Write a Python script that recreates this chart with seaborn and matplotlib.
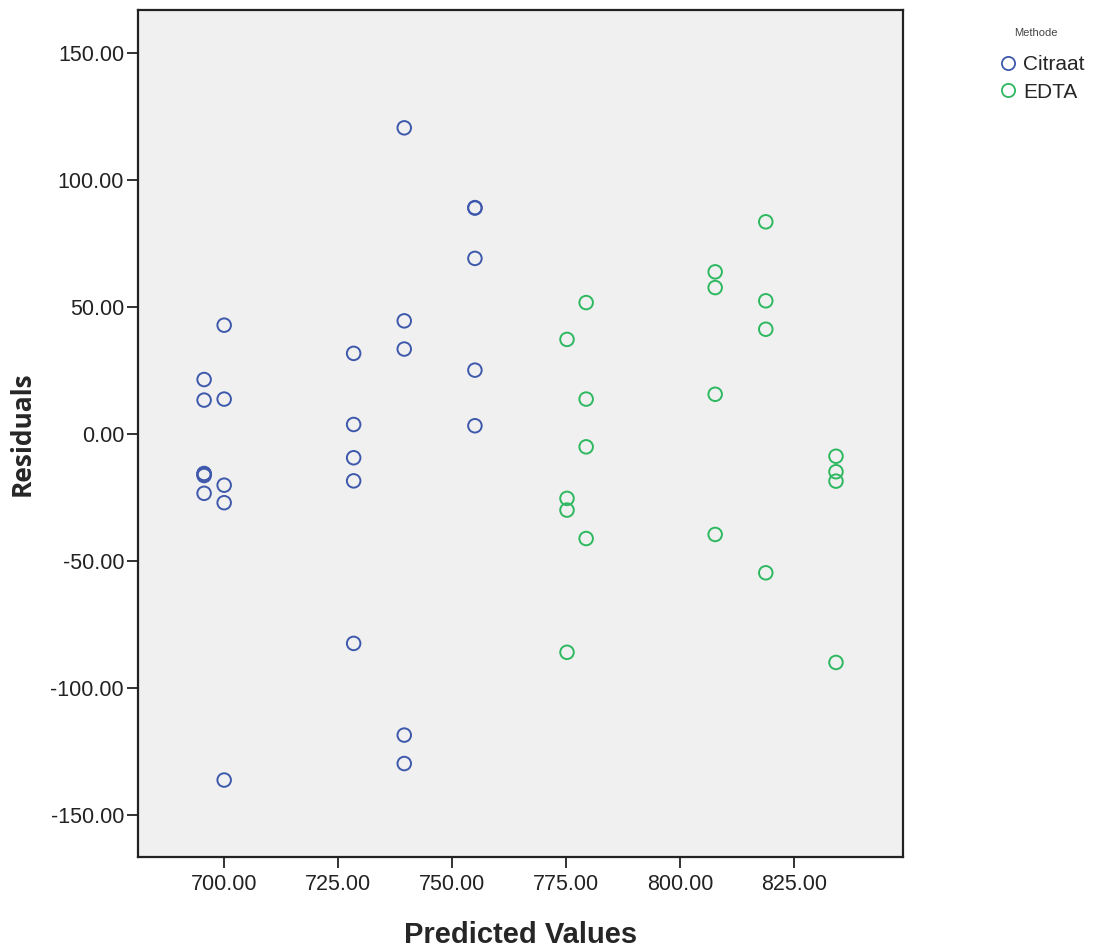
import matplotlib
matplotlib.use("Agg")
import matplotlib.pyplot as plt
from matplotlib.lines import Line2D
from matplotlib.ticker import FormatStrFormatter
import seaborn as sns
import pandas as pd

# ---- data ----
citraat_pred = [695.6]*6 + [700.0]*5 + [728.4]*5 + [739.5]*5 + [755.0]*5
citraat_res = [21.5, 13.4, -15.5, -15.7, -16.3, -23.3,
               42.9, 13.8, -20.1, -27.0, -136.2,
               31.8, 3.8, -9.3, -18.4, -82.4,
               120.6, 44.6, 33.5, -118.5, -129.7,
               89.2, 89.0, 69.2, 25.2, 3.3]

edta_pred = [775.2]*4 + [779.4]*4 + [807.7]*4 + [818.8]*4 + [834.2]*4
edta_res = [37.3, -25.3, -29.9, -85.9,
            51.8, 13.8, -5.0, -41.1,
            63.9, 57.7, 15.7, -39.5,
            83.6, 52.5, 41.3, -54.6,
            -8.7, -14.8, -18.5, -89.9]

groups = ["Citraat", "EDTA"]
colors = ["#3E58AC", "#2EB860"]
x_ticks = [700, 725, 750, 775, 800, 825]
y_ticks = [-150, -100, -50, 0, 50, 100, 150]

df = pd.DataFrame({
    "Predicted Values": citraat_pred + edta_pred,
    "Residuals": citraat_res + edta_res,
    "Methode": ["Citraat"]*len(citraat_pred) + ["EDTA"]*len(edta_pred),
})

sns.set_theme(style="ticks")
plt.rcParams['font.family'] = ['Liberation Sans', 'DejaVu Sans']

fig = plt.figure(figsize=(10.95, 9.47), dpi=100)
ax = fig.add_axes([138/1095, 1-857/947, (903-138)/1095, (857-10)/947])
ax.set_facecolor("#F0F0F0")

sns.scatterplot(data=df, x="Predicted Values", y="Residuals", hue="Methode",
                hue_order=groups, palette=dict(zip(groups, colors)),
                s=95, linewidth=1.4, ax=ax, legend=False, zorder=3)
for coll in ax.collections:
    fc = coll.get_facecolors()
    coll.set_edgecolors(fc)
    coll.set_facecolors("none")

ax.set_xlim(681.1, 848.9)
ax.set_ylim(-166.5, 167.0)
ax.set_xticks(x_ticks)
ax.set_yticks(y_ticks)
ax.xaxis.set_major_formatter(FormatStrFormatter("%.2f"))
ax.yaxis.set_major_formatter(FormatStrFormatter("%.2f"))
ax.tick_params(axis="both", direction="out", length=8, width=1.3, labelsize=15.5,
               colors="#222222", pad=2)
ax.tick_params(axis="x", pad=4)
ax.tick_params(top=False, right=False)
for sp in ax.spines.values():
    sp.set_color("#222222")
    sp.set_linewidth(1.6)
    sp.set_visible(True)

ax.set_xlabel("Predicted Values", fontsize=21, fontweight="bold")
ax.xaxis.set_label_coords(0.5, (857-921)/847)
ax.set_ylabel("Residuals", fontsize=19, fontweight="bold",
              family=["Open Sans", "DejaVu Sans"])
ax.yaxis.set_label_coords((36-138)/765, 0.5)

handles = [Line2D([0], [0], marker="o", linestyle="", markersize=9.5,
                  markerfacecolor="none", markeredgecolor=c, markeredgewidth=1.3)
           for c in colors]
fig.legend(handles, groups, loc="upper left",
           bbox_to_anchor=(1000/1095, 1-55/947), frameon=False,
           fontsize=15, handletextpad=0.3,
           handlelength=0.8, borderaxespad=0, borderpad=0, labelspacing=0.42)
fig.text(1036/1095, 1-33/947, "Methode", fontsize=8, color="#444444",
         ha="center", va="center")

fig.savefig("out.png", dpi=100, facecolor="white")
